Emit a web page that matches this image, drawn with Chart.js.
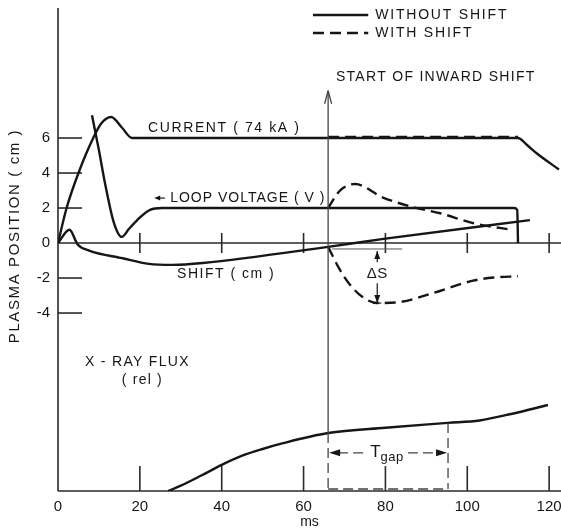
<!DOCTYPE html>
<html>
<head>
<meta charset="utf-8">
<script src="https://cdn.jsdelivr.net/npm/chart.js@4.4.1/dist/chart.umd.min.js"></script>
<style>
  html, body { margin: 0; padding: 0; background: #fff; }
</style>
</head>
<body>
<canvas id="plasmaChart" width="561" height="529"></canvas>
<script>
// values: time in ms, positions / voltage in cm-scale units
const currentT = [0, 2.1, 5.0, 8.6, 10.6, 13.0, 15.6, 18.1, 20.0, 112.4, 114.6, 117.1, 122.4];
const currentCm = [0, 2.0, 4.0, 6.0, 6.85, 7.2, 6.6, 6.0, 6.0, 6.0, 5.6, 5.1, 4.2];

const currentShiftT = [66.0, 112.4];
const currentShiftCm = [6.06, 6.06];

const loopT = [8.3, 10.0, 11.5, 13.6, 15.6, 17.3, 19.3, 22.5, 25.5, 111.4, 112.2, 112.4];
const loopV = [7.3, 5.3, 3.4, 1.2, 0.35, 0.8, 1.3, 1.9, 2.0, 2.0, 1.9, 0];

const loopShiftT = [66.0, 68.9, 72.6, 79.4, 86.8, 93.4, 101.4, 111.2];
const loopShiftV = [2.0, 3.0, 3.37, 2.6, 2.05, 1.7, 1.14, 0.74];

const shiftT = [0, 2.8, 4.8, 7.6, 15.8, 22.2, 28.0, 35.4, 66.0, 80.0, 115.3];
const shiftCm = [0, 0.76, -0.08, -0.43, -0.87, -1.19, -1.25, -1.14, -0.22, 0.25, 1.31];

const shiftDashT = [66.0, 68.9, 71.4, 74.5, 78.0, 83.6, 91.6, 101.4, 106.5, 112.4];
const shiftDashCm = [-0.22, -1.54, -2.4, -3.1, -3.43, -3.37, -2.86, -2.15, -1.97, -1.9];

// x-ray flux, relative units (0 = bottom axis)
const xrayT = [26.9, 30.0, 35.0, 40.0, 45.0, 50.0, 55.0, 66.0, 80.0, 95.3, 103.0, 111.0, 119.7];
const xrayRel = [0, 1.1, 3.2, 5.4, 7.3, 8.7, 9.9, 12.0, 13.1, 14.1, 14.6, 16.0, 17.8];

const xTicks = [0, 20, 40, 60, 80, 100, 120];
const yTicks = [-4, -2, 0, 2, 4, 6];

const shiftStart = 66.0;   // start of inward shift (ms)
const gapEnd = 95.3;       // end of T gap (ms)

const ink = '#161616';
const fontFamily = '"Liberation Sans", Arial, sans-serif';

const pts = (t, v) => t.map((tt, i) => ({ x: tt, y: v[i] }));

const curve = (data, dashed, axis) => ({
    data: data,
    yAxisID: axis || 'y',
    borderColor: ink,
    borderWidth: 2.4,
    borderDash: dashed ? [11, 6] : [],
    pointRadius: 0,
    fill: false,
    cubicInterpolationMode: 'monotone'
});

const line = (ctx, x1, y1, x2, y2) => {
    ctx.beginPath();
    ctx.moveTo(x1, y1);
    ctx.lineTo(x2, y2);
    ctx.stroke();
};

const head = (ctx, x, y, dir, len, half) => {
    // filled arrow head, tip at (x, y); dir: 'l','r','u','d'
    ctx.beginPath();
    ctx.moveTo(x, y);
    if (dir === 'l') { ctx.lineTo(x + len, y - half); ctx.lineTo(x + len, y + half); }
    if (dir === 'r') { ctx.lineTo(x - len, y - half); ctx.lineTo(x - len, y + half); }
    if (dir === 'u') { ctx.lineTo(x - half, y + len); ctx.lineTo(x + half, y + len); }
    if (dir === 'd') { ctx.lineTo(x - half, y - len); ctx.lineTo(x + half, y - len); }
    ctx.closePath();
    ctx.fill();
};

const text = (ctx, str, x, y, size, align, spacing) => {
    ctx.font = size + 'px ' + fontFamily;
    ctx.textAlign = align || 'left';
    ctx.textBaseline = 'middle';
    ctx.letterSpacing = (spacing === undefined ? 1.5 : spacing) + 'px';
    ctx.fillText(str, x, y);
};

const overlay = {
    id: 'overlay',
    beforeDatasetsDraw(chart) {
        const { ctx, chartArea: a, scales: { x, y } } = chart;
        const px = v => x.getPixelForValue(v);
        const py = v => y.getPixelForValue(v);
        ctx.save();
        ctx.strokeStyle = '#2a2a2a';
        ctx.lineWidth = 1.6;
        line(ctx, px(0), a.top, px(0), a.bottom);
        line(ctx, px(0), py(0), a.right, py(0));
        line(ctx, px(0), a.bottom, a.right, a.bottom);
        yTicks.filter(v => v !== 0).forEach(v => line(ctx, px(0), py(v), px(0) + 24, py(v)));
        xTicks.filter(v => v > 0).forEach(v => {
            line(ctx, px(v), py(0) - 10, px(v), py(0) + 10);
            line(ctx, px(v), a.bottom - 25, px(v), a.bottom);
        });
        ctx.restore();
    },
    afterDatasetsDraw(chart) {
        const { ctx, chartArea: a, scales: { x, y, y2 } } = chart;
        const px = v => x.getPixelForValue(v);
        const py = v => y.getPixelForValue(v);
        ctx.save();
        ctx.fillStyle = ink;
        ctx.strokeStyle = ink;

        // legend
        ctx.lineWidth = 2.4;
        line(ctx, px(62.3), py(13.03), px(75.8), py(13.03));
        ctx.setLineDash([11, 6]);
        line(ctx, px(62.3), py(12.0), px(75.8), py(12.0));
        ctx.setLineDash([]);
        text(ctx, 'WITHOUT SHIFT', px(77.5), py(13.03), 14, 'left', 1.8);
        text(ctx, 'WITH SHIFT', px(77.5), py(12.0), 14, 'left', 1.8);

        // start of inward shift
        const xs = px(shiftStart);
        const yCurve = y2.getPixelForValue(12.0);
        ctx.strokeStyle = '#444';
        ctx.lineWidth = 1.3;
        line(ctx, xs, py(8.7), xs, yCurve);
        line(ctx, xs - 3.5, py(8.7) + 13, xs, py(8.7));
        line(ctx, xs + 3.5, py(8.7) + 13, xs, py(8.7));
        text(ctx, 'START OF INWARD SHIFT', px(67.9), py(9.49), 14, 'left', 1.3);

        // T gap box
        const xg = px(gapEnd);
        const yb = a.bottom - 2;
        ctx.setLineDash([10, 5]);
        line(ctx, xs, yCurve, xs, yb);
        line(ctx, xg, y2.getPixelForValue(14.1), xg, yb);
        line(ctx, xs, yb, xg, yb);
        const ya = y2.getPixelForValue(7.9);
        line(ctx, xs + 10, ya, px(75.0), ya);
        line(ctx, px(85.5), ya, xg - 10, ya);
        ctx.setLineDash([]);
        head(ctx, xs + 1, ya, 'l', 11, 3.5);
        head(ctx, xg - 1, ya, 'r', 11, 3.5);
        ctx.fillStyle = ink;
        text(ctx, 'T', px(76.3), ya - 1, 17, 'left', 0);
        text(ctx, 'gap', px(78.8), ya + 5, 13, 'left', 0.5);

        // delta S
        ctx.strokeStyle = '#555';
        ctx.lineWidth = 1;
        line(ctx, px(67.0), py(-0.34), px(84.1), py(-0.34));
        ctx.strokeStyle = ink;
        ctx.lineWidth = 1.2;
        const xd = px(78.0);
        line(ctx, xd, py(-0.45), xd, py(-1.1));
        head(ctx, xd, py(-0.45), 'u', 8, 3);
        text(ctx, '\u0394S', xd, py(-1.74), 15, 'center', 0.5);
        line(ctx, xd, py(-2.3), xd, py(-3.4));
        head(ctx, xd, py(-3.43), 'd', 8, 3);
        line(ctx, xd - 4, py(-3.43), xd + 4, py(-3.43));

        // curve labels
        text(ctx, 'CURRENT ( 74 kA )', px(22.0), py(6.57), 14, 'left', 1.6);
        ctx.lineWidth = 1.2;
        line(ctx, px(24.5), py(2.57), px(26.1), py(2.57));
        head(ctx, px(23.5), py(2.57), 'l', 6, 2.5);
        text(ctx, 'LOOP VOLTAGE ( V )', px(27.4), py(2.57), 14, 'left', 1.0);
        text(ctx, 'SHIFT ( cm )', px(29.1), py(-1.77), 14, 'left', 1.5);
        text(ctx, 'X - RAY FLUX', px(6.6), py(-6.8), 14, 'left', 1.3);
        text(ctx, '( rel )', px(15.6), py(-7.83), 14, 'left', 1.2);

        // y title
        ctx.save();
        ctx.translate(15, 236);
        ctx.rotate(-Math.PI / 2);
        text(ctx, 'PLASMA POSITION ( cm )', 0, 0, 15, 'center', 1.6);
        ctx.restore();

        ctx.restore();
    }
};

const ctx = document.getElementById('plasmaChart').getContext('2d');
const plasmaChart = new Chart(ctx, {
    type: 'line',
    data: {
        datasets: [
            curve(pts(currentT, currentCm)),
            curve(pts(currentShiftT, currentShiftCm), true),
            curve(pts(loopT, loopV)),
            curve(pts(loopShiftT, loopShiftV), true),
            curve(pts(shiftT, shiftCm)),
            curve(pts(shiftDashT, shiftDashCm), true),
            curve(pts(xrayT, xrayRel), false, 'y2')
        ]
    },
    options: {
        responsive: false,
        animation: false,
        layout: { padding: { top: 8, left: 0, right: 0, bottom: 0 } },
        plugins: {
            legend: { display: false },
            tooltip: { enabled: false }
        },
        scales: {
            x: {
                type: 'linear',
                min: 0,
                max: 122.9,
                afterBuildTicks: s => { s.ticks = xTicks.map(v => ({ value: v })); },
                afterFit: s => { s.height = 38; s.paddingLeft = 0; s.paddingRight = 0; },
                grid: { display: false, drawTicks: false },
                border: { display: false },
                ticks: { autoSkip: false, maxRotation: 0, padding: 7, color: ink, font: { family: fontFamily, size: 15 } },
                title: { display: true, text: 'ms', color: ink, padding: 0, font: { family: fontFamily, size: 14, lineHeight: 1 } }
            },
            y: {
                min: -14.17,
                max: 13.43,
                afterBuildTicks: s => { s.ticks = yTicks.map(v => ({ value: v })); },
                afterFit: s => { s.width = 58; s.paddingTop = 0; s.paddingBottom = 0; },
                grid: { display: false, drawTicks: false },
                border: { display: false },
                ticks: { padding: 8, color: ink, font: { family: fontFamily, size: 15 } }
            },
            y2: {
                display: false,
                min: 0,
                max: 100
            }
        }
    },
    plugins: [overlay]
});
</script>
</body>
</html>
